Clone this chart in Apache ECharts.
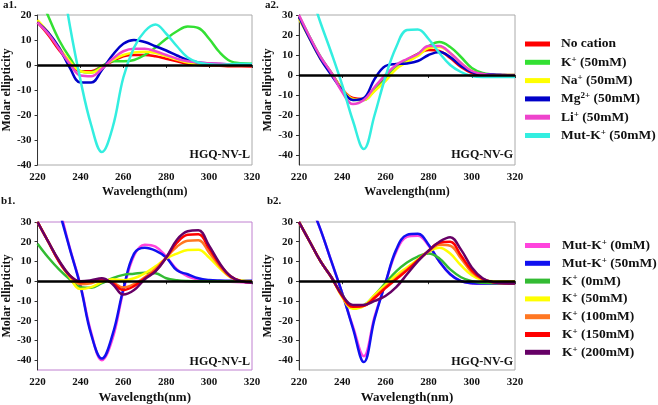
<!DOCTYPE html>
<html>
<head>
<meta charset="utf-8">
<script src="https://cdn.jsdelivr.net/npm/echarts@6.0.0/dist/echarts.min.js"></script>
<style>
  html, body { margin: 0; padding: 0; background: #fff; }
  #chart { width: 658px; height: 405px; }
</style>
</head>
<body>
<div id="chart"></div>
<script>
// wavelength grid (nm)
var wavelengths = [220, 225, 230, 235, 240, 245, 250, 255, 260, 265, 270, 275, 280, 285, 290, 295, 300, 305, 310, 315, 320];

// a1. HGQ-NV-L, different cations
var a1NoCation = [17, 12, 6, 1, -2.5, -2.5, -0.5, 1.5, 3.5, 4, 4, 3.5, 2.5, 1.5, 0.5, 0, -0.2, -0.3, -0.5, -0.5, -0.6];
var a1K = [30, 19.5, 10, 3, -2.5, -3, -0.5, 1.5, 1.5, 2, 4, 7, 10.5, 13.5, 15.4, 14.8, 10.5, 5, 1.5, 0.7, 0.5];
var a1Na = [18, 13, 7, 1.5, -2.5, -3, -1, 2, 4, 5, 5.3, 4.8, 3.5, 2.2, 1, 0.3, 0, 0, 0, 0, 0];
var a1Mg = [17, 13, 7, -1, -7, -7, -2, 4, 8.5, 10, 9.2, 7.5, 5.8, 3.8, 2, 1, 0.6, 0.4, 0.3, 0.2, 0];
var a1Li = [17, 12.5, 6.5, 0.5, -4.2, -4.5, -1.5, 2.5, 5.5, 6.5, 6.5, 5.5, 4, 2.5, 1.5, 1, 0.7, 0.5, 0.3, 0.2, 0];
var a1MutK = [70, 60, 42, 16, -6, -24, -34.8, -25, -5, 7, 13.5, 16.2, 12.5, 7.5, 3, 1, 0.3, 0, 0.3, 0.5, 0.4];

// a2. HGQ-NV-G, different cations
var a2NoCation = [29, 18.5, 8.5, 1, -7, -11.5, -12, -7.5, -1.5, 4, 7.5, 10.5, 12.5, 12, 8.5, 4, 1, 0, -0.3, -0.5, -0.5];
var a2K = [29.5, 19, 9, 1, -7.5, -12.5, -12.5, -7.5, -2, 4, 7.5, 10.5, 14.5, 16.5, 14, 9, 3.5, 1, 0.3, 0, 0];
var a2Na = [28, 18, 8, 0.5, -7, -12, -12.5, -8, -3, 3, 6.5, 9.5, 13.5, 14, 11, 6, 2, 0.5, 0, 0, 0];
var a2Mg = [29, 18, 8, 0, -7.5, -12.5, -11.5, -2, 4.5, 5.5, 5.8, 7, 10, 11.5, 9, 4.5, 1.5, 0.5, 0.3, 0, -0.3];
var a2Li = [30, 19, 9, 1, -8.5, -14.5, -12.5, -6, 0, 5, 8, 10.5, 14.5, 14.5, 11, 6, 2, 0.5, 0, 0, 0];
var a2MutK = [55, 42, 26, 11, -5, -23, -37, -20, -1, 14, 22.5, 22.8, 18, 11, 5, 1.5, -0.5, -1, -1, -1, -1];

// b1. HGQ-NV-L, K+ titration
var b1MutK0 = [75, 58, 38, 17, -2, -26, -40, -29, -5, 13, 18.5, 17.5, 12.5, 6, 2.5, 0.8, 0.2, 0, -0.3, -0.5, -0.8];
var b1MutK50 = [70, 55, 36, 16.5, -2.5, -27, -39.2, -27, -4, 14, 17, 15.5, 12, 5.5, 3.5, 1.5, 0.6, 0.3, 0.2, 0.2, 0.2];
var b1K0 = [19, 12, 6, 1, -3, -3.3, -1, 1.5, 3.2, 3.8, 4.3, 4, 1.5, 0.5, 0.1, 0, 0, 0, 0, 0, 0];
var b1K50 = [30, 20, 10, 2, -4, -3, -0.5, 1, 0.5, 1.5, 4, 7.5, 11.5, 14, 15.8, 16, 12, 6.5, 2, 0.3, 0];
var b1K100 = [30, 20, 10, 2.5, -1.5, -1, 0.5, -0.5, -3.2, -1.5, 2, 6.2, 12, 17.5, 20.5, 20.8, 14.5, 7.5, 2, 0, -0.3];
var b1K150 = [30, 20, 10, 3, -0.5, 0, 1, -1, -4.5, -2.5, 1.5, 5.3, 12, 19.5, 23.5, 23.8, 16.5, 8.5, 2.5, 0, -0.5];
var b1K200 = [30, 20, 10.5, 3, 0, 0.5, 1.5, -1.5, -6.8, -4.5, 1, 5, 12, 21, 25.3, 25.8, 18, 9, 2.5, 0, -0.8];

// b2. HGQ-NV-G, K+ titration
var b2MutK0 = [55, 40, 26, 10, -6, -23, -38, -18, -1, 15, 22.5, 23, 18, 10, 3.5, 0, -1, -1.3, -1.3, -1.2, -1];
var b2MutK50 = [55, 40, 26, 10, -6, -24, -41, -19, -1, 16, 23.5, 24, 18.5, 10, 3.5, 0, -1, -1.2, -1.2, -1, -1];
var b2K0 = [30, 20, 10, 2, -7, -12.5, -12, -7, -1, 5, 9.5, 12.5, 14, 11.5, 6, 2, 0, -0.8, -1, -1, -1];
var b2K50 = [30, 20, 10, 2, -8, -14, -12.5, -7, -2, 3, 7, 11, 15, 17, 14, 8, 3, 0.5, 0, 0, 0];
var b2K100 = [30, 20, 10, 2, -7.5, -13, -12.5, -8, -3, 1.5, 6, 10.5, 15, 18.5, 18, 11.5, 4.5, 1, -0.5, -0.8, -1];
var b2K150 = [30, 20, 10, 2, -7.5, -13, -12.5, -8.5, -3.5, 1, 5.5, 10.5, 15.5, 19.5, 20, 13, 5.5, 1.2, -0.5, -1, -1];
var b2K200 = [30, 20, 10, 2, -7, -12, -12, -10, -7.5, -3, 3.5, 10, 15.5, 20, 22.3, 16, 7, 1.5, -0.5, -1, -1.2];

// axis ticks
var yTicksA1 = [-40, -30, -20, -10, 0, 10, 20];
var yTicksOther = [-40, -30, -20, -10, 0, 10, 20, 30];

// legend labels ("^" marks the raised part)
var labelsA = ['No cation', 'K^+ (50mM)', 'Na^+ (50mM)', 'Mg^2+ (50mM)', 'Li^+ (50mM)', 'Mut-K^+ (50mM)'];
var colorsA = ['#ff0000', '#33e033', '#ffff00', '#0000c8', '#ee44cc', '#33eee0'];
var labelsB = ['Mut-K^+ (0mM)', 'Mut-K^+ (50mM)', 'K^+ (0mM)', 'K^+ (50mM)', 'K^+ (100mM)', 'K^+ (150mM)', 'K^+ (200mM)'];
var colorsB = ['#ff44dd', '#1010f0', '#33bb33', '#ffff00', '#ff7722', '#ff0000', '#660066'];

var FONT = '"Liberation Serif", "Times New Roman", serif';

// series names are kept unique per group: "a:..." / "b:..."
var namesA = labelsA.map(function (l) { return 'a:' + l; });
var namesB = labelsB.map(function (l) { return 'b:' + l; });

function pairs(vals) {
    return wavelengths.map(function (w, i) { return [w, vals[i]]; });
}

function makeSeries(names, colors, sets, idx) {
    return sets.map(function (vals, i) {
        var s = {
            name: names[i],
            type: 'line',
            xAxisIndex: idx,
            yAxisIndex: idx,
            smooth: 0.4,
            showSymbol: false,
            silent: true,
            color: colors[i],
            lineStyle: { width: 2.5, color: colors[i] },
            data: pairs(vals)
        };
        if (i === 0) {
            // black buffer baseline at zero
            s.markLine = {
                silent: true,
                symbol: 'none',
                label: { show: false },
                lineStyle: { color: '#000', width: 2.5, type: 'solid' },
                data: [{ yAxis: 0 }]
            };
        }
        return s;
    });
}

function xAxisCfg(idx, gap, nameSize, lineColor) {
    return {
        type: 'value', gridIndex: idx, min: 220, max: 320, interval: 20,
        name: 'Wavelength(nm)', nameLocation: 'middle', nameGap: gap,
        nameTextStyle: { fontFamily: FONT, fontWeight: 'bold', fontSize: nameSize, color: '#111' },
        axisLine: { lineStyle: { color: lineColor, width: 1 } },
        axisTick: { length: 3, lineStyle: { color: '#333' } },
        axisLabel: { margin: 7, fontFamily: FONT, fontWeight: 'bold', fontSize: 11, color: '#111' },
        splitLine: { show: false }
    };
}

function yAxisCfg(idx, min, max, ticks, gap) {
    var cfg = {
        type: 'value', gridIndex: idx, min: min, max: max,
        name: 'Molar ellipticity', nameLocation: 'middle', nameGap: gap, nameRotate: 90,
        nameTextStyle: { fontFamily: FONT, fontWeight: 'bold', fontSize: 12, color: '#111' },
        axisLine: { show: true, lineStyle: { color: '#333', width: 1 } },
        axisTick: { show: true, length: 3, lineStyle: { color: '#333' }, customValues: ticks },
        axisLabel: { margin: 6, fontFamily: FONT, fontWeight: 'bold', fontSize: 11, color: '#111', customValues: ticks },
        splitLine: { show: false }
    };
    if (min % 10 === 0) { cfg.interval = 10; }
    return cfg;
}

// "b:K^+ (50mM)" -> rich text with a small raised "+"
function legendText(n) {
    var l = n.slice(2);
    var parts = l.split(/\^(2?\+)/);
    var out = '';
    parts.forEach(function (p, i) {
        if (!p) return;
        out += (i % 2 ? '{s|' : '{t|') + p + '}';
    });
    return out;
}

function legendCfg(names, top, gap, padLeft) {
    return {
        orient: 'vertical', left: 520, top: top,
        data: names, icon: 'rect', itemWidth: 25, itemHeight: 5, itemGap: gap,
        selectedMode: false,
        formatter: legendText,
        textStyle: {
            color: '#111', padding: [0, 0, 0, padLeft],
            rich: {
                t: { fontFamily: FONT, fontWeight: 'bold', fontSize: 13.5, lineHeight: 15, color: '#111' },
                s: { fontFamily: FONT, fontWeight: 'bold', fontSize: 9, lineHeight: 10, verticalAlign: 'top', color: '#111' }
            }
        }
    };
}

function label(text, x, y, size, align) {
    return {
        type: 'text', x: x, y: y, silent: true,
        style: { text: text, fill: '#111', font: 'bold ' + size + 'px ' + FONT, textAlign: align || 'left', textVerticalAlign: 'middle' }
    };
}

var chart = echarts.init(document.getElementById('chart'));

var option = {
    animation: false,
    backgroundColor: '#fff',
    grid: [
        { left: 36, top: 15, width: 216, height: 150, show: true, borderColor: '#aaa', borderWidth: 1 },
        { left: 299, top: 15, width: 216, height: 150, show: true, borderColor: '#aaa', borderWidth: 1 },
        { left: 36, top: 222, width: 216, height: 150, show: true, borderColor: '#c080d0', borderWidth: 1 },
        { left: 299, top: 222, width: 216, height: 150, show: true, borderColor: '#aaa', borderWidth: 1 }
    ],
    xAxis: [
        xAxisCfg(0, 21, 12, '#222'),
        xAxisCfg(1, 21, 12, '#222'),
        xAxisCfg(2, 21, 13, '#b070c0'),
        xAxisCfg(3, 21, 13, '#222')
    ],
    yAxis: [
        yAxisCfg(0, -40, 20, yTicksA1, 22),
        yAxisCfg(1, -45, 30, yTicksOther, 25),
        yAxisCfg(2, -45, 30, yTicksOther, 22),
        yAxisCfg(3, -45, 30, yTicksOther, 25)
    ],
    legend: [
        legendCfg(namesA, 32, 3.8, 6),
        legendCfg(namesB, 233, 3.3, 7)
    ],
    graphic: [
        label('a1.', 3, 5, 11),
        label('a2.', 265, 5, 11),
        label('b1.', 1, 201, 11),
        label('b2.', 267, 201, 11),
        label('HGQ-NV-L', 250, 155, 12, 'right'),
        label('HGQ-NV-G', 513, 155, 12, 'right'),
        label('HGQ-NV-L', 250, 362, 12, 'right'),
        label('HGQ-NV-G', 513, 362, 12, 'right')
    ],
    series: [].concat(
        makeSeries(namesA, colorsA, [a1NoCation, a1K, a1Na, a1Mg, a1Li, a1MutK], 0),
        makeSeries(namesA, colorsA, [a2NoCation, a2K, a2Na, a2Mg, a2Li, a2MutK], 1),
        makeSeries(namesB, colorsB, [b1MutK0, b1MutK50, b1K0, b1K50, b1K100, b1K150, b1K200], 2),
        makeSeries(namesB, colorsB, [b2MutK0, b2MutK50, b2K0, b2K50, b2K100, b2K150, b2K200], 3)
    )
};

chart.setOption(option);
</script>
</body>
</html>
